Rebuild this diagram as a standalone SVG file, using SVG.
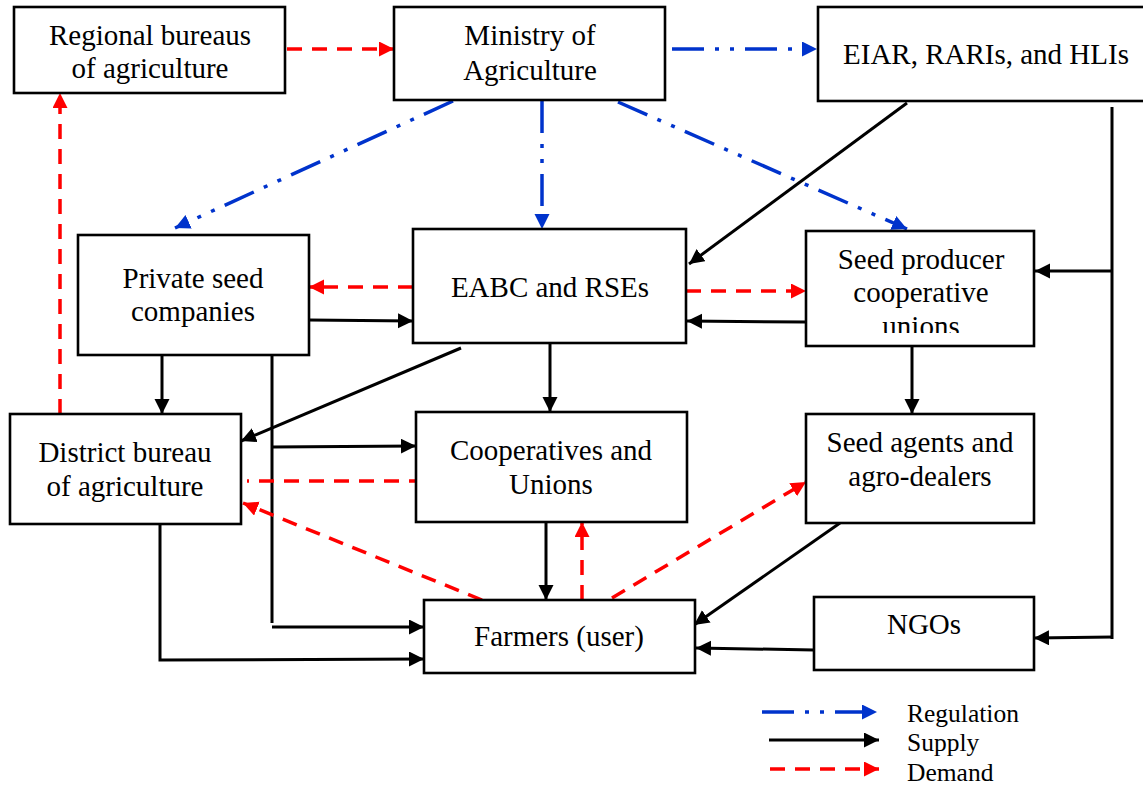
<svg xmlns="http://www.w3.org/2000/svg" width="1143" height="788" viewBox="0 0 1143 788">
<defs>
<style>
.box{fill:#fff;stroke:#000;stroke-width:2.6}
.t{font-family:"Liberation Serif","Times New Roman",serif;font-size:29px;fill:#000;text-anchor:middle}
.lg{font-family:"Liberation Serif","Times New Roman",serif;font-size:25.5px;fill:#000}
.sup{fill:none;stroke:#000;stroke-width:3}
.dem{fill:none;stroke:#ff0000;stroke-width:3.5;stroke-dasharray:15 10}
.reg{fill:none;stroke:#0033cc;stroke-width:3.5;stroke-dasharray:32 11 4 11 4 11}
</style>
<marker id="ab" markerUnits="userSpaceOnUse" markerWidth="16" markerHeight="16" refX="15" refY="7.5" orient="auto"><path d="M0,0 L15,7.5 L0,15 z" fill="#000"/></marker>
<marker id="ar" markerUnits="userSpaceOnUse" markerWidth="16" markerHeight="16" refX="15" refY="7.5" orient="auto"><path d="M0,0 L15,7.5 L0,15 z" fill="#ff0000"/></marker>
<marker id="au" markerUnits="userSpaceOnUse" markerWidth="16" markerHeight="16" refX="15" refY="7.5" orient="auto"><path d="M0,0 L15,7.5 L0,15 z" fill="#0033cc"/></marker>
<clipPath id="spclip"><rect x="806" y="231" width="228" height="102"/></clipPath>
</defs>
<rect width="1143" height="788" fill="#fff"/>

<g id="connectors">
<!-- regulation -->
<path class="reg" d="M672,49 L817,49" marker-end="url(#au)"/>
<path class="reg" d="M453,101 L175,228" marker-end="url(#au)"/>
<path class="reg" d="M542,101 L542,229" marker-end="url(#au)"/>
<path class="reg" d="M618,102 L907,229" marker-end="url(#au)"/>
<!-- supply -->
<path class="sup" d="M907,103 L689,264" marker-end="url(#ab)"/>
<path class="sup" d="M1112,107 L1112,639"/>
<path class="sup" d="M1112,271 L1035,271" marker-end="url(#ab)"/>
<path class="sup" d="M1113,637 L1034,638" marker-end="url(#ab)"/>
<path class="sup" d="M309,320 L413,321" marker-end="url(#ab)"/>
<path class="sup" d="M806,322 L687,321" marker-end="url(#ab)"/>
<path class="sup" d="M162,356 L162,414" marker-end="url(#ab)"/>
<path class="sup" d="M272,351 L272,623"/>
<path class="sup" d="M272,447 L416,446" marker-end="url(#ab)"/>
<path class="sup" d="M272,627 L424,627" marker-end="url(#ab)"/>
<path class="sup" d="M461,348 L241,441" marker-end="url(#ab)"/>
<path class="sup" d="M550,343 L550,412" marker-end="url(#ab)"/>
<path class="sup" d="M912,346 L912,414" marker-end="url(#ab)"/>
<path class="sup" d="M160,524 L160,660 L424,659" marker-end="url(#ab)"/>
<path class="sup" d="M546,522 L546,600" marker-end="url(#ab)"/>
<path class="sup" d="M840,523 L694,625" marker-end="url(#ab)"/>
<path class="sup" d="M814,650 L696,648" marker-end="url(#ab)"/>
<!-- demand -->
<path class="dem" d="M287,49 L394,49" marker-end="url(#ar)"/>
<path class="dem" d="M413,287 L309,287" marker-end="url(#ar)"/>
<path class="dem" d="M686,291 L806,291" marker-end="url(#ar)"/>
<path class="dem" d="M424,481 L247,481"/>
<path class="dem" d="M482,600 L243,503" marker-end="url(#ar)"/>
<path class="dem" d="M582,600 L582,522" marker-end="url(#ar)"/>
<path class="dem" d="M612,598 L806,482" marker-end="url(#ar)"/>
<path class="dem" d="M60,414 L60,93" marker-end="url(#ar)"/>
</g>

<g id="regional">
<rect class="box" x="14" y="7" width="271" height="86"/>
<text class="t" x="150" y="45">Regional bureaus</text>
<text class="t" x="150" y="78">of agriculture</text>
</g>
<g id="ministry">
<rect class="box" x="394" y="7" width="271" height="93"/>
<text class="t" x="530" y="45">Ministry of</text>
<text class="t" x="530" y="80">Agriculture</text>
</g>
<g id="eiar">
<rect class="box" x="818" y="7" width="330" height="94"/>
<text class="t" x="986" y="64">EIAR, RARIs, and HLIs</text>
</g>
<g id="private">
<rect class="box" x="78" y="235" width="231" height="120"/>
<text class="t" x="193" y="288">Private seed</text>
<text class="t" x="193" y="321">companies</text>
</g>
<g id="eabc">
<rect class="box" x="413" y="229" width="273" height="114"/>
<text class="t" x="550" y="297">EABC and RSEs</text>
</g>
<g id="seedproducer">
<rect class="box" x="806" y="231" width="228" height="115"/>
<text class="t" x="921" y="269">Seed producer</text>
<text class="t" x="921" y="302">cooperative</text>
<text class="t" x="921" y="336" clip-path="url(#spclip)">unions</text>
</g>
<g id="district">
<rect class="box" x="10" y="414" width="231" height="110"/>
<text class="t" x="125" y="462">District bureau</text>
<text class="t" x="125" y="496">of agriculture</text>
</g>
<g id="coop">
<rect class="box" x="416" y="412" width="271" height="110"/>
<text class="t" x="551" y="460">Cooperatives and</text>
<text class="t" x="551" y="494">Unions</text>
</g>
<g id="agents">
<rect class="box" x="806" y="414" width="228" height="109"/>
<text class="t" x="920" y="452">Seed agents and</text>
<text class="t" x="920" y="486">agro-dealers</text>
</g>
<g id="farmers">
<rect class="box" x="424" y="600" width="271" height="73"/>
<text class="t" x="559" y="646">Farmers (user)</text>
</g>
<g id="ngos">
<rect class="box" x="814" y="597" width="220" height="73"/>
<text class="t" x="924" y="634">NGOs</text>
</g>

<g id="legend">
<path class="reg" d="M762,712 L877,712" marker-end="url(#au)"/>
<path class="sup" d="M769,740 L879,740" marker-end="url(#ab)"/>
<path class="dem" d="M770,769 L879,769" marker-end="url(#ar)"/>
<text class="lg" x="907" y="722">Regulation</text>
<text class="lg" x="907" y="751">Supply</text>
<text class="lg" x="907" y="781">Demand</text>
</g>
</svg>
